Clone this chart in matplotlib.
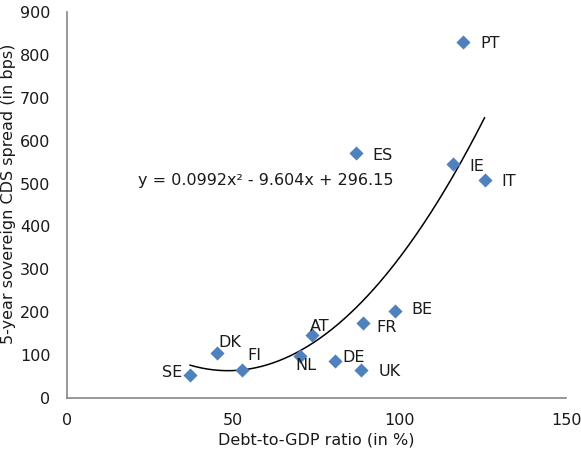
import numpy as np
import matplotlib.pyplot as plt

plt.rcParams['font.family'] = 'DejaVu Sans'

countries = ['SE', 'DK', 'FI', 'NL', 'AT', 'DE', 'FR', 'UK', 'BE', 'ES', 'IE', 'IT', 'PT']
debt_gdp = [37, 45, 52.5, 70, 73.5, 80.5, 89, 88.5, 98.5, 87, 116, 125.5, 119]
cds_bps = [54, 105, 65, 98, 147, 86, 175, 65, 203, 571, 545, 508, 830]

# quadratic trendline coefficients (a, b, c)
trend = [0.0992, -9.604, 296.15]

# label offsets in pixels from each marker
offsets = {
    'SE': (-8, 2), 'DK': (2, 10), 'FI': (6, 15), 'NL': (-4, -10),
    'AT': (-2, 8), 'DE': (8, 4), 'FR': (13, -5), 'UK': (17, -1),
    'BE': (17, 1), 'ES': (16, -2), 'IE': (16, -2), 'IT': (17, -1),
    'PT': (17, -1),
}

fs = 11.5
txt = '#1a1a1a'

fig = plt.figure(figsize=(5.81, 4.53), dpi=100)
ax = fig.add_axes([0.1153, 0.1214, 0.8589, 0.8521])

ax.scatter(debt_gdp, cds_bps, marker='D', s=52, color='#4F81BD', zorder=3,
           linewidths=0)

xs = np.linspace(min(debt_gdp), max(debt_gdp), 200)
ax.plot(xs, np.polyval(trend, xs), color='black', lw=1.1, zorder=2)

for c, x, y in zip(countries, debt_gdp, cds_bps):
    dx, dy = offsets[c]
    ha = 'right' if c == 'SE' else 'left'
    ax.annotate(c, (x, y), xytext=(dx, dy), textcoords='offset pixels',
                ha=ha, va='center', fontsize=fs, color=txt)

ax.text(21.3, 508, 'y = 0.0992x² - 9.604x + 296.15', fontsize=fs,
        va='center', ha='left', color=txt)

ax.set_xlim(0, 150)
ax.set_ylim(0, 900)
ax.set_xticks([0, 50, 100, 150])
ax.set_yticks(range(0, 901, 100))
ax.tick_params(length=0, labelsize=fs, colors=txt)
ax.tick_params(axis='y', pad=12)
ax.tick_params(axis='x', pad=11)
for side in ['top', 'right']:
    ax.spines[side].set_visible(False)
for side in ['left', 'bottom']:
    ax.spines[side].set_color('#868686')
    ax.spines[side].set_linewidth(1.2)

ax.set_xlabel('Debt-to-GDP ratio (in %)', fontsize=fs, color=txt, labelpad=3)
ax.set_ylabel('5-year sovereign CDS spread (in bps)', fontsize=fs, color=txt)
ax.yaxis.set_label_coords(-0.102, 0.53)

fig.savefig('out.png', dpi=100)
